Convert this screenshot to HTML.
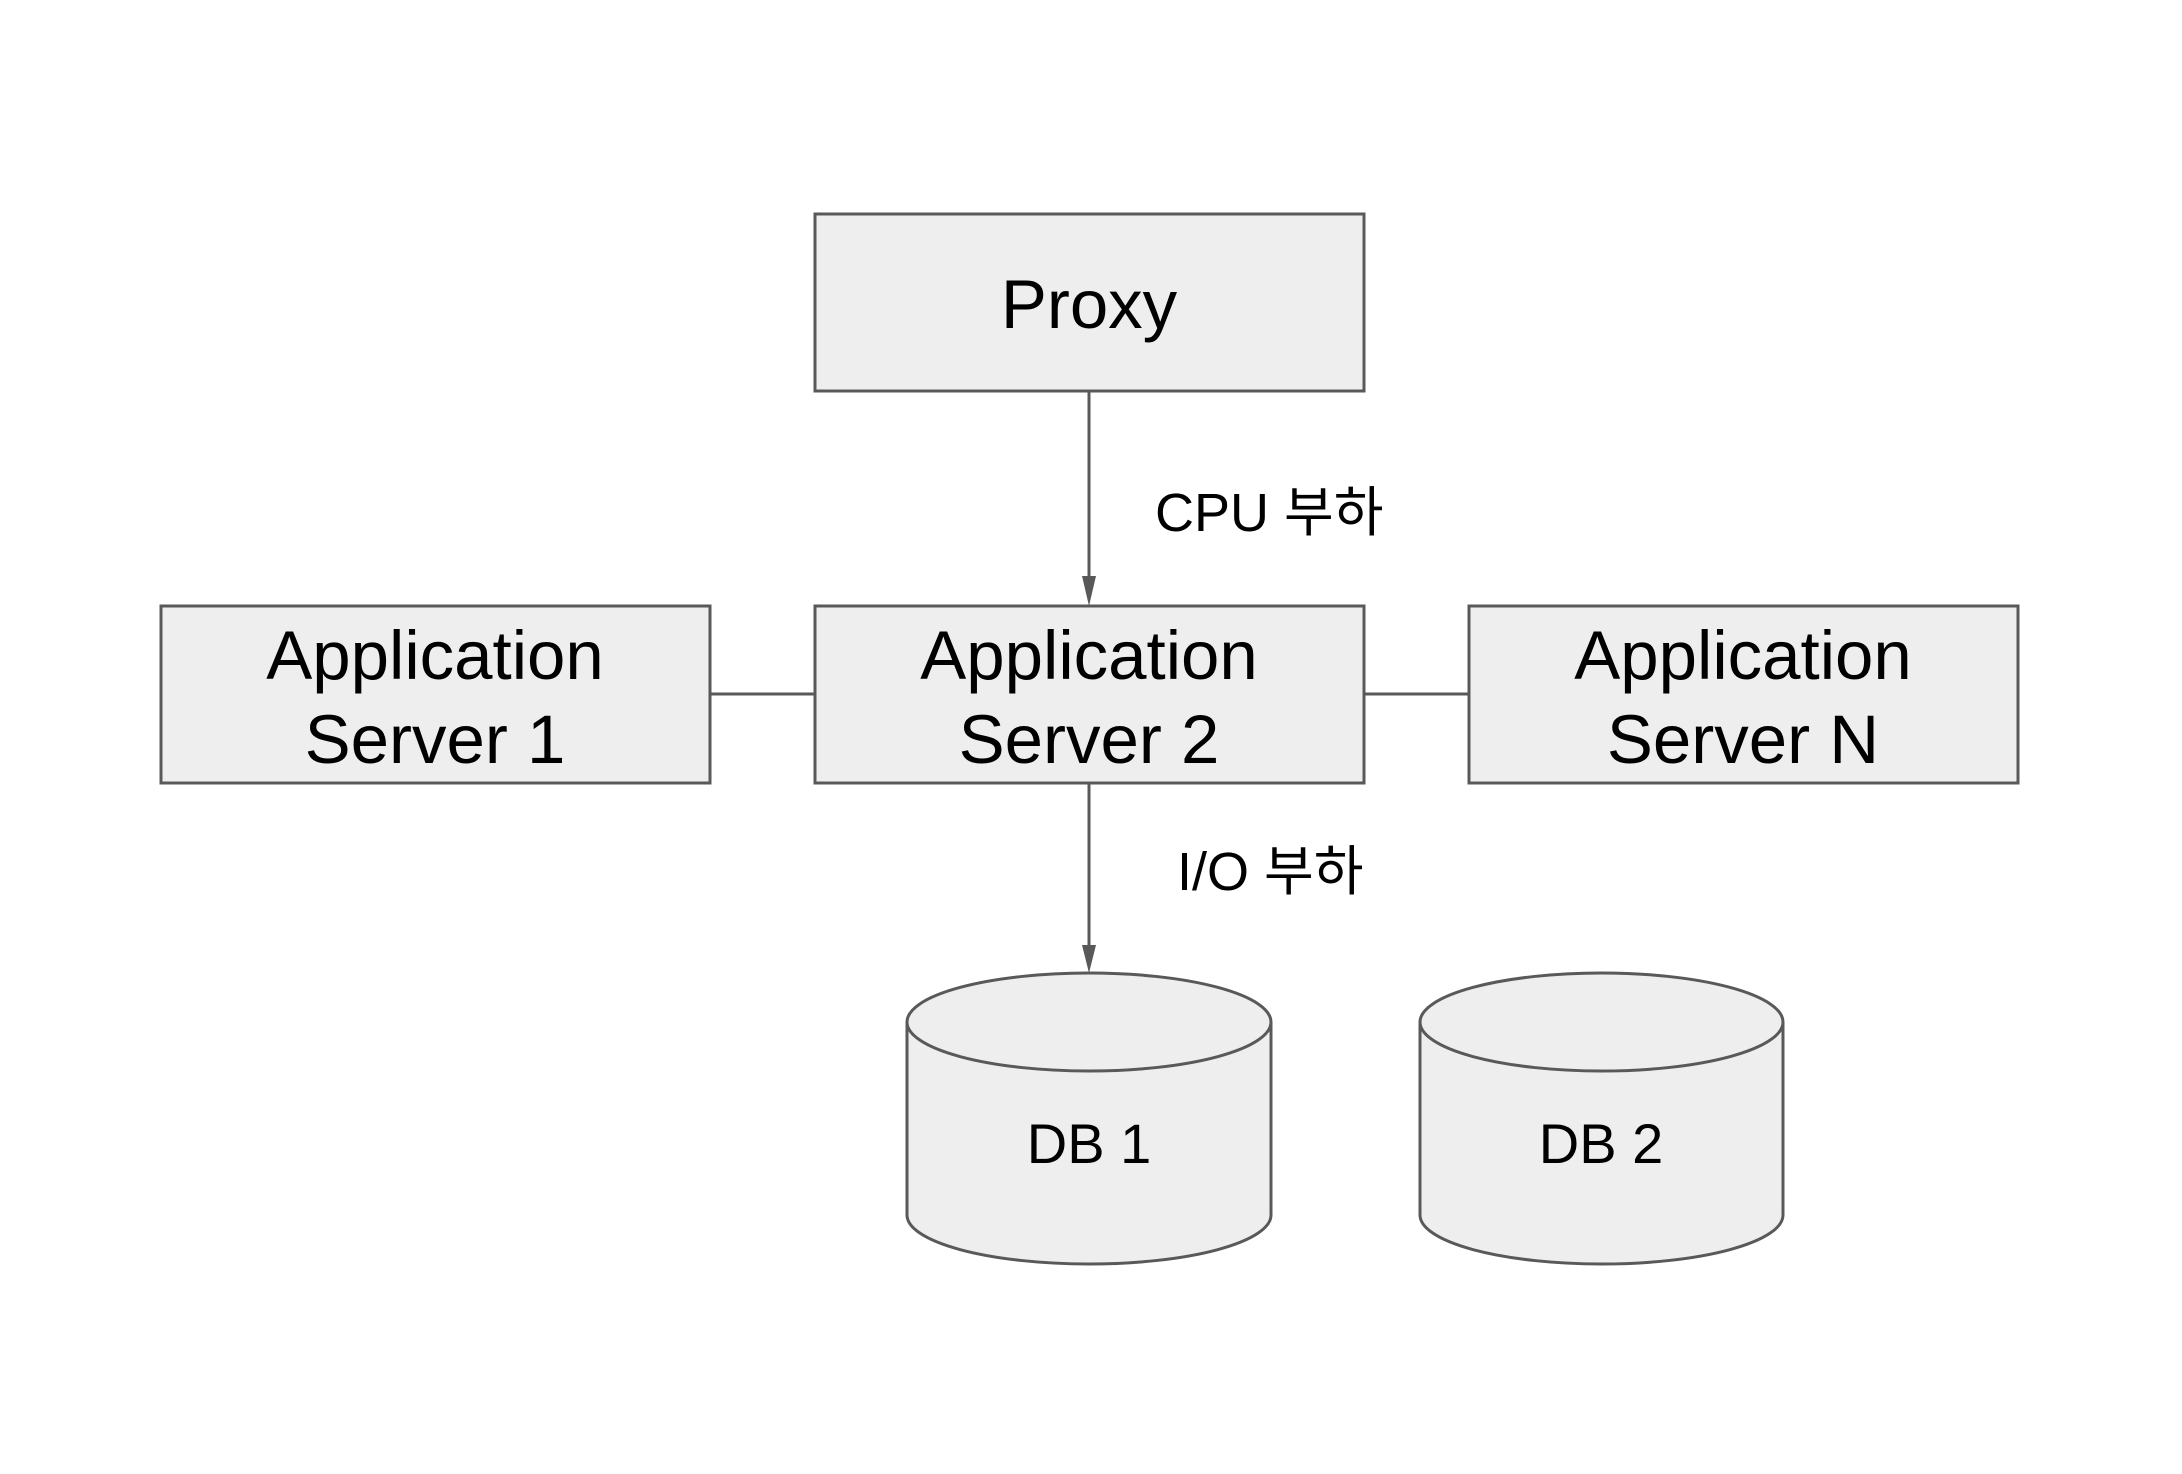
<!DOCTYPE html>
<html><head><meta charset="utf-8"><style>
html,body{margin:0;padding:0;background:#fff;}
svg{display:block;}
text{font-family:"Liberation Sans","Noto Sans CJK KR",sans-serif;fill:#000;}
</style></head><body>
<svg width="2182" height="1474" viewBox="0 0 2182 1474" xmlns="http://www.w3.org/2000/svg">
<rect width="2182" height="1474" fill="#fff"/>
<g stroke="#595959" stroke-width="3" fill="#eeeeee">
<rect x="815" y="214" width="549" height="177"/>
<rect x="161" y="606" width="549" height="177"/>
<rect x="815" y="606" width="549" height="177"/>
<rect x="1469" y="606" width="549" height="177"/>
<line x1="710" y1="694" x2="815" y2="694"/>
<line x1="1364" y1="694" x2="1469" y2="694"/>
<line x1="1089" y1="391" x2="1089" y2="578"/>
<line x1="1089" y1="783" x2="1089" y2="947"/>
<path d="M907,1022 L907,1215 A182,49 0 0 0 1271,1215 L1271,1022 A182,49 0 0 0 907,1022 Z"/>
<path d="M907,1022 A182,49 0 0 0 1271,1022" fill="none"/>
<path d="M1420,1022 L1420,1215 A181.5,49 0 0 0 1783,1215 L1783,1022 A181.5,49 0 0 0 1420,1022 Z"/>
<path d="M1420,1022 A181.5,49 0 0 0 1783,1022" fill="none"/>
</g>
<g fill="#595959">
<polygon points="1082,576 1096,576 1089,606"/>
<polygon points="1082,945 1096,945 1089,973"/>
</g>
<g text-anchor="middle" font-size="69">
<text x="1089" y="328">Proxy</text>
<text x="435" y="679">Application</text>
<text x="435" y="763">Server 1</text>
<text x="1089" y="679">Application</text>
<text x="1089" y="763">Server 2</text>
<text x="1743" y="679">Application</text>
<text x="1743" y="763">Server N</text>
</g>
<g text-anchor="middle" font-size="56">
<text x="1089" y="1163">DB 1</text>
<text x="1601" y="1163">DB 2</text>
</g>
<g font-size="54">
<text x="1155" y="531">CPU 부하</text>
<text x="1177" y="890">I/O 부하</text>
</g>
</svg>
</body></html>
